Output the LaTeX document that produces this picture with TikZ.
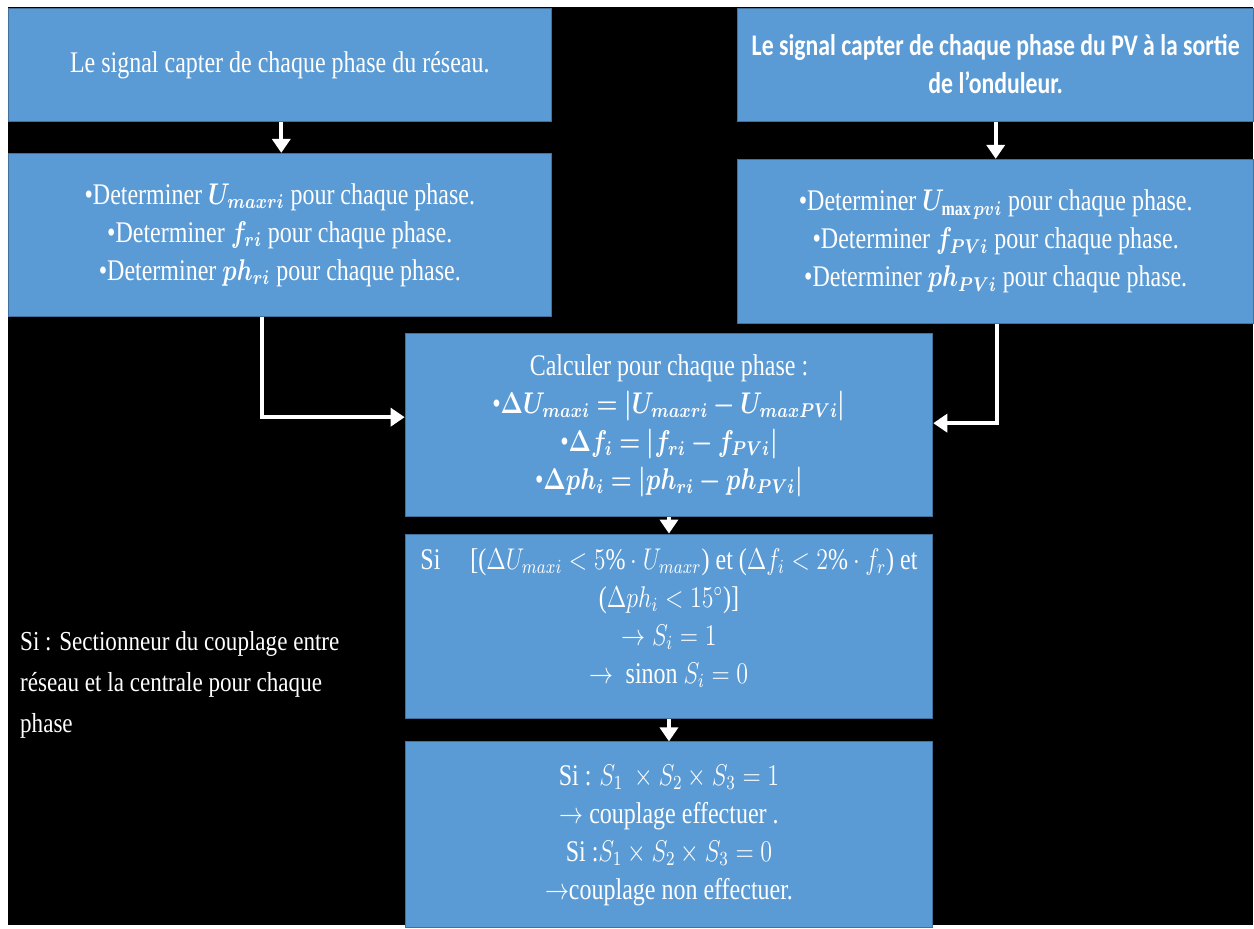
\documentclass[tikz,border=0pt]{standalone}
\usepackage{amsmath,bm}
\usepackage{fontspec}
\setmainfont{Liberation Serif}
\newfontfamily\carl{Carlito}
\usetikzlibrary{arrows.meta}
\definecolor{boxblue}{RGB}{91,155,213}
\definecolor{boxedge}{RGB}{65,113,156}
\newcommand{\cx}[2]{\scalebox{#1}[2.5]{\begin{tabular}{@{}c@{}}#2\end{tabular}}}
\newcommand{\lx}[2]{\scalebox{#1}[2.5]{\begin{tabular}{@{}l@{}}#2\end{tabular}}}
\begin{document}
\begin{tikzpicture}[x=1pt,y=-1pt,
  blk/.style={draw=boxedge, line width=1pt, fill=boxblue, inner sep=0pt, anchor=north west},
  lbl/.style={text=white, inner sep=0pt, font=\fontsize{12}{15.2}\selectfont},
  arr/.style={draw=white, line width=4pt, -{Triangle[width=18pt,length=14pt]}}]
\fill[white] (0,0) rectangle (1254,926);
\fill[black] (8,7) rectangle (1254,926);
% boxes
\node[blk, minimum width=543pt, minimum height=113pt] (A) at (8,8) {};
\node[blk, minimum width=543pt, minimum height=163pt] (B) at (8,153) {};
\node[blk, minimum width=516pt, minimum height=113pt] (C) at (738,8) {};
\node[blk, minimum width=516pt, minimum height=164pt] (D) at (738,159) {};
\node[blk, minimum width=528pt, minimum height=183pt] (E) at (405,333) {};
\node[blk, minimum width=528pt, minimum height=185pt] (F) at (405,534) {};
\node[blk, minimum width=528pt, minimum height=186pt] (G) at (405,742) {};
% texts
\node[lbl] (At) at (A.center) {\cx{2}{Le signal capter de chaque phase du réseau.}};
\node[lbl] (Bt) at (B.center) {\cx{2}{%
  •Determiner $\bm{U_{maxri}}$ pour chaque phase.\\
  •Determiner $\bm{f_{ri}}$ pour chaque phase.\\
  •Determiner $\bm{ph_{ri}}$ pour chaque phase.}};
\node[lbl, font=\fontsize{12}{15.2}\carl\bfseries] (Ct) at ([yshift=-2pt]C.center) {\cx{1.98}{Le signal capter de chaque phase du PV à la sortie\\ de l’onduleur.}};
\node[lbl] (Dt) at (D.center) {\cx{2}{%
  •Determiner $\bm{U}_{\mathbf{max}\,\bm{pvi}}$ pour chaque phase.\\
  •Determiner $\bm{f_{PVi}}$ pour chaque phase.\\
  •Determiner $\bm{ph_{PVi}}$ pour chaque phase.}};
\node[lbl] (Et) at (E.center) {\cx{2}{%
  Calculer pour chaque phase :\\
  •$\bm{\Delta U_{maxi} = |U_{maxri} - U_{maxPVi}|}$\\
  •$\bm{\Delta f_i = |f_{ri} - f_{PVi}|}$\\
  •$\bm{\Delta ph_i = |ph_{ri} - ph_{PVi}|}$}};
\node[lbl, anchor=north] (Ft) at ([yshift=-9pt]F.north) {\cx{2}{%
  Si\quad\ [($\Delta U_{maxi} < 5\%\cdot U_{maxr}$) et ($\Delta f_i < 2\%\cdot f_r$) et\\
  ($\Delta ph_i < 15^\circ$)]\\
  $\rightarrow S_i = 1$\\
  $\rightarrow$\ \ sinon $S_i = 0$}};
\node[lbl] (Gt) at (G.center) {\cx{2}{%
  Si : $S_1\ \times S_2 \times S_3 = 1$\\
  $\rightarrow$ couplage effectuer .\\
  Si :$S_1 \times S_2 \times S_3 = 0$\\
  $\rightarrow$couplage non effectuer.}};
\node[lbl, anchor=north west, font=\fontsize{11}{16.4}\selectfont] (L) at (20,622) {\lx{2.1}{%
  Si : Sectionneur du couplage entre\\
  réseau et la centrale pour chaque\\
  phase}};
% arrows
\draw[arr] ([xshift=1.5pt]A.south) -- ([xshift=1.5pt]B.north);
\draw[arr] (C.south) -- (D.north);
\draw[arr] ([xshift=-17.5pt]B.south) |- ([yshift=7.5pt]E.west);
\draw[arr] ([xshift=1pt]D.south) |- ([yshift=1.5pt]E.east);
\draw[arr] (E.south) -- (F.north);
\draw[arr] (F.south) -- (G.north);
\end{tikzpicture}
\end{document}
